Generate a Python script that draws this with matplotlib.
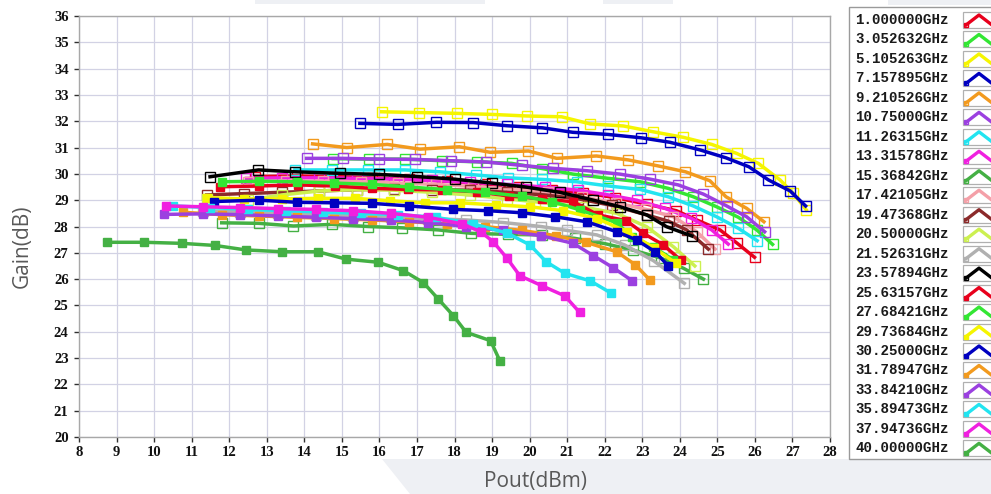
import matplotlib
matplotlib.use("Agg")
import matplotlib.pyplot as plt
from matplotlib.patches import Rectangle, Polygon

# ---------------- data ----------------
labels = ["1.000000GHz", "3.052632GHz", "5.105263GHz", "7.157895GHz", "9.210526GHz",
          "10.75000GHz", "11.26315GHz", "13.31578GHz", "15.36842GHz", "17.42105GHz",
          "19.47368GHz", "20.50000GHz", "21.52631GHz", "23.57894GHz", "25.63157GHz",
          "27.68421GHz", "29.73684GHz", "30.25000GHz", "31.78947GHz", "33.84210GHz",
          "35.89473GHz", "37.94736GHz", "40.00000GHz"]

colors = ["#e8001c", "#33e633", "#f5f500", "#0000c0", "#f29a1e",
          "#9b40e0", "#22e4f0", "#f020e0", "#44b044", "#f4a0a8",
          "#8b2a2a", "#ccf050", "#b0b0b0", "#000000", "#e8001c",
          "#33e633", "#f5f500", "#0000c0", "#f29a1e", "#9b40e0",
          "#22e4f0", "#f020e0", "#44b044"]

filled = [False] * 14 + [True] * 9

pout_01 = [12.7, 13.8, 14.8, 15.8, 16.8, 17.8, 18.8, 19.7, 20.59, 21.43, 22.27, 23.12, 23.91, 24.45, 25.07, 25.53, 25.99]
gain_01 = [29.9, 29.92, 29.9, 29.85, 29.8, 29.72, 29.62, 29.5, 29.39, 29.28, 29.1, 28.85, 28.6, 28.25, 27.87, 27.36, 26.83]
pout_02 = [14.77, 15.73, 16.68, 17.66, 18.59, 19.52, 20.34, 21.16, 22.1, 22.94, 23.69, 24.36, 24.98, 25.56, 26.05, 26.47]
gain_02 = [30.58, 30.56, 30.56, 30.5, 30.46, 30.4, 30.2, 29.99, 29.83, 29.7, 29.45, 29.13, 28.75, 28.35, 27.87, 27.32]
pout_03 = [16.06, 17.06, 18.06, 18.99, 19.92, 20.85, 21.61, 22.5, 23.29, 24.09, 24.85, 25.51, 26.09, 26.67, 27.02, 27.37]
gain_03 = [32.36, 32.33, 32.3, 32.26, 32.2, 32.17, 31.9, 31.82, 31.6, 31.39, 31.12, 30.78, 30.4, 29.77, 29.26, 28.63]
pout_04 = [15.48, 16.49, 17.52, 18.5, 19.39, 20.34, 21.15, 22.08, 22.98, 23.74, 24.54, 25.23, 25.84, 26.36, 26.94, 27.35]
gain_04 = [31.92, 31.88, 31.96, 31.95, 31.83, 31.75, 31.58, 31.5, 31.37, 31.2, 30.91, 30.61, 30.27, 29.77, 29.35, 28.78]
pout_05 = [14.22, 15.13, 16.21, 17.08, 18.13, 18.95, 19.97, 20.72, 21.78, 22.63, 23.43, 24.15, 24.8, 25.23, 25.78, 26.24]
gain_05 = [31.14, 31.0, 31.12, 30.94, 31.03, 30.82, 30.87, 30.59, 30.68, 30.53, 30.3, 30.08, 29.74, 29.13, 28.69, 28.18]
pout_06 = [14.06, 15.04, 16.0, 16.95, 17.9, 18.85, 19.8, 20.63, 21.52, 22.41, 23.21, 23.96, 24.63, 25.25, 25.78, 26.26]
gain_06 = [30.59, 30.59, 30.56, 30.55, 30.5, 30.45, 30.32, 30.21, 30.12, 29.99, 29.8, 29.58, 29.23, 28.78, 28.37, 27.8]
pout_07 = [13.75, 14.73, 15.7, 16.68, 17.61, 18.56, 19.43, 20.34, 21.25, 22.1, 22.94, 23.69, 24.36, 24.98, 25.56, 26.06]
gain_07 = [30.15, 30.15, 30.15, 30.15, 30.08, 29.96, 29.85, 29.79, 29.7, 29.54, 29.41, 29.13, 28.78, 28.37, 27.93, 27.46]
pout_08 = [12.46, 13.4, 14.4, 15.4, 16.4, 17.4, 18.4, 19.4, 20.4, 21.3, 22.1, 22.85, 23.6, 24.31, 24.85, 25.29]
gain_08 = [29.83, 29.85, 29.85, 29.83, 29.8, 29.75, 29.68, 29.6, 29.5, 29.38, 29.2, 29.0, 28.69, 28.31, 27.87, 27.33]
pout_09 = [11.8, 12.79, 13.71, 14.73, 15.7, 16.6, 17.57, 18.45, 19.43, 20.32, 21.2, 22.0, 22.76, 23.5, 24.1, 24.63]
gain_09 = [28.14, 28.12, 28.02, 28.08, 28.0, 27.95, 27.87, 27.74, 27.7, 27.68, 27.55, 27.35, 27.1, 26.8, 26.41, 26.0]
pout_10 = [12.5, 13.5, 14.5, 15.5, 16.5, 17.5, 18.5, 19.5, 20.5, 21.4, 22.3, 23.1, 23.83, 24.45, 24.94]
gain_10 = [29.7, 29.72, 29.72, 29.7, 29.65, 29.6, 29.52, 29.42, 29.3, 29.12, 28.9, 28.65, 28.37, 27.8, 27.14]
pout_11 = [11.4, 12.4, 13.4, 14.4, 15.4, 16.4, 17.4, 18.4, 19.4, 20.4, 21.3, 22.2, 23.12, 23.7, 24.18, 24.76]
gain_11 = [29.2, 29.25, 29.3, 29.35, 29.4, 29.42, 29.4, 29.38, 29.3, 29.2, 29.05, 28.8, 28.44, 28.2, 27.87, 27.14]
pout_12 = [11.4, 12.5, 13.4, 14.4, 15.4, 16.4, 17.4, 18.4, 19.4, 20.4, 21.4, 22.32, 23.12, 23.83, 24.4]
gain_12 = [29.05, 29.0, 29.2, 29.35, 29.4, 29.38, 29.3, 29.2, 29.05, 28.9, 28.75, 28.5, 27.99, 27.23, 26.5]
pout_13 = [11.3, 12.3, 13.3, 14.3, 15.3, 16.3, 17.3, 18.3, 19.3, 20.3, 21.0, 21.79, 22.53, 23.3, 24.12]
gain_13 = [28.6, 28.55, 28.5, 28.45, 28.4, 28.35, 28.3, 28.25, 28.15, 28.0, 27.85, 27.68, 27.3, 26.7, 25.84]
pout_14 = [11.49, 12.78, 13.75, 14.95, 16.0, 17.0, 18.0, 19.0, 19.9, 20.8, 21.7, 22.41, 23.12, 23.65, 24.32]
gain_14 = [29.89, 30.15, 30.08, 30.02, 29.98, 29.9, 29.8, 29.65, 29.5, 29.3, 29.0, 28.75, 28.44, 27.99, 27.64]
pout_15 = [11.76, 12.8, 13.84, 14.82, 15.79, 16.77, 17.66, 18.59, 19.45, 20.32, 21.16, 21.83, 22.58, 23.03, 23.56, 24.02]
gain_15 = [29.51, 29.54, 29.58, 29.54, 29.45, 29.41, 29.39, 29.32, 29.16, 29.05, 28.94, 28.44, 28.22, 27.74, 27.3, 26.73]
pout_16 = [11.8, 12.8, 13.8, 14.8, 15.8, 16.8, 17.8, 18.8, 19.8, 20.6, 21.34, 22.32, 22.72, 23.29, 23.83]
gain_16 = [29.7, 29.72, 29.7, 29.65, 29.6, 29.5, 29.4, 29.3, 29.15, 28.95, 28.63, 28.14, 27.61, 27.23, 26.73]
pout_17 = [11.4, 12.4, 13.4, 14.37, 15.35, 16.28, 17.21, 18.15, 19.1, 20.0, 20.9, 21.8, 22.6, 23.3, 23.9]
gain_17 = [29.1, 29.05, 29.05, 29.07, 29.07, 28.98, 28.9, 28.9, 28.82, 28.75, 28.6, 28.3, 27.8, 27.2, 26.6]
pout_18 = [11.6, 12.8, 13.8, 14.8, 15.8, 16.8, 17.97, 18.9, 19.81, 20.68, 21.52, 22.32, 22.85, 23.34, 23.69]
gain_18 = [28.95, 29.0, 28.92, 28.9, 28.88, 28.78, 28.65, 28.6, 28.52, 28.37, 28.18, 27.8, 27.49, 27.04, 26.51]
pout_19 = [10.78, 11.8, 12.8, 13.8, 14.8, 15.8, 16.8, 17.8, 18.8, 19.8, 20.7, 21.5, 22.32, 22.82, 23.2]
gain_19 = [28.54, 28.45, 28.4, 28.35, 28.3, 28.25, 28.18, 28.1, 28.0, 27.85, 27.65, 27.4, 27.04, 26.54, 25.97]
pout_20 = [10.26, 11.3, 12.3, 13.3, 14.3, 15.3, 16.3, 17.3, 18.3, 19.3, 20.3, 21.16, 21.7, 22.23, 22.73]
gain_20 = [28.46, 28.48, 28.45, 28.4, 28.35, 28.3, 28.25, 28.15, 28.0, 27.85, 27.65, 27.36, 26.89, 26.43, 25.94]
pout_21 = [10.51, 11.5, 12.5, 13.5, 14.5, 15.5, 16.5, 17.5, 18.5, 19.4, 20.01, 20.44, 20.94, 21.62, 22.18]
gain_21 = [28.78, 28.72, 28.65, 28.6, 28.55, 28.5, 28.45, 28.35, 28.1, 27.75, 27.3, 26.66, 26.22, 25.93, 25.46]
pout_22 = [10.33, 11.3, 12.3, 13.3, 14.3, 15.3, 16.3, 17.3, 18.2, 18.7, 19.03, 19.39, 19.74, 20.34, 20.94, 21.33]
gain_22 = [28.78, 28.75, 28.72, 28.68, 28.65, 28.6, 28.5, 28.35, 28.1, 27.8, 27.42, 26.81, 26.13, 25.74, 25.36, 24.74]
pout_23 = [8.74, 9.74, 10.73, 11.62, 12.44, 13.41, 14.37, 15.11, 15.97, 16.64, 17.17, 17.57, 17.97, 18.31, 18.96, 19.21]
gain_23 = [27.40, 27.40, 27.36, 27.28, 27.11, 27.04, 27.04, 26.76, 26.64, 26.32, 25.87, 25.24, 24.61, 23.98, 23.66, 22.89]

pouts = [pout_01, pout_02, pout_03, pout_04, pout_05, pout_06, pout_07, pout_08, pout_09, pout_10,
         pout_11, pout_12, pout_13, pout_14, pout_15, pout_16, pout_17, pout_18, pout_19, pout_20,
         pout_21, pout_22, pout_23]
gains = [gain_01, gain_02, gain_03, gain_04, gain_05, gain_06, gain_07, gain_08, gain_09, gain_10,
         gain_11, gain_12, gain_13, gain_14, gain_15, gain_16, gain_17, gain_18, gain_19, gain_20,
         gain_21, gain_22, gain_23]

x_ticks = list(range(8, 29))
y_ticks = list(range(20, 37))

# ---------------- figure ----------------
W, H = 991, 494
fig = plt.figure(figsize=(W / 100, H / 100), dpi=100)
fig.patch.set_facecolor("white")

bg = fig.add_axes([0, 0, 1, 1], zorder=0)
bg.set_xlim(0, W)
bg.set_ylim(H, 0)
bg.axis("off")

# decorative gray shapes of the screenshot
band = "#eef0f4"
bg.add_patch(Polygon([(382, 459), (W, 459), (W, H), (410, H)], closed=True,
                     facecolor=band, edgecolor="none"))
bg.add_patch(Rectangle((255, 0), 230, 4, facecolor=band, edgecolor="none"))
bg.add_patch(Rectangle((603, 0), 70, 4, facecolor=band, edgecolor="none"))
bg.add_patch(Rectangle((888, 0), 103, 5, facecolor=band, edgecolor="none"))

ax = fig.add_axes([79 / W, 1 - 437 / H, (830 - 79) / W, (437 - 16) / H], zorder=2)
ax.set_facecolor("white")

for xs, ys, c, f in zip(pouts, gains, colors, filled):
    if f:
        ax.plot(xs, ys, color=c, lw=2.5, marker="s", ms=5.5, mfc=c, mec=c,
                solid_joinstyle="round")
    else:
        ax.plot(xs, ys, color=c, lw=2.5, marker="s", ms=6.5, mfc="none", mec=c,
                mew=1.0, solid_joinstyle="round")

ax.set_xlim(8, 28)
ax.set_ylim(20, 36)
ax.set_xticks(x_ticks)
ax.set_yticks(y_ticks)
ax.grid(True, color="#d2d2e4", lw=0.9)
ax.set_axisbelow(True)
for s in ax.spines.values():
    s.set_color("#a8a8a8")
    s.set_linewidth(1.0)
tick_font = dict(family="Liberation Serif", weight="bold", size=10.5)
ax.set_xticklabels([str(v) for v in x_ticks], **tick_font)
ax.set_yticklabels([str(v) for v in y_ticks], **tick_font)
ax.tick_params(axis="both", direction="out", length=3.5, width=1.0, color="#303030",
               labelcolor="#111111")
ax.tick_params(axis="x", pad=3)
ax.tick_params(axis="y", pad=4)

# axis titles
fig.text(22 / W, 1 - 246 / H, "Gain(dB)", rotation=90, ha="center", va="center",
         family="Open Sans", size=15, color="#595959")
fig.text(535 / W, 1 - 481 / H, "Pout(dBm)", ha="center", va="center",
         family="Open Sans", size=15, color="#595959")

# legend panel
bg.add_patch(Rectangle((849, 7), 160, 452, facecolor="white", edgecolor="#9a9a9a", lw=1.0))
for i, (lab, c, f) in enumerate(zip(labels, colors, filled)):
    yc = 20 + i * 19.47
    bg.text(855, yc, lab, ha="left", va="center", family="Liberation Mono",
            weight="bold", size=10.2, color="#1a1a1a")
    bg.add_patch(Rectangle((963, yc - 8), 40, 16, facecolor="white",
                           edgecolor="#b0b0b0", lw=0.9))
    bg.plot([966, 979, 992], [yc + 5, yc - 5, yc + 5], color=c, lw=2.4,
            solid_joinstyle="round", clip_on=False)
    bg.plot([966], [yc + 5], marker="s", ms=3, color=c,
            mfc=(c if f else "none"), clip_on=False)

fig.savefig("out.png", dpi=100)
